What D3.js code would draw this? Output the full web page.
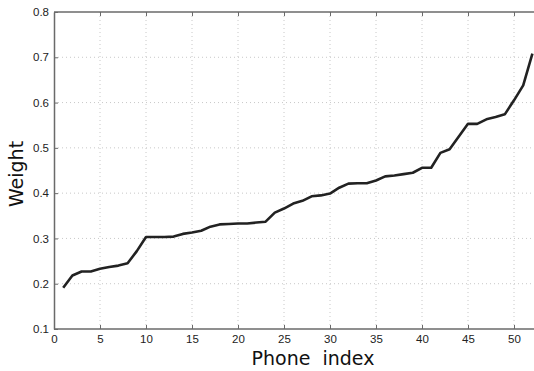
<!DOCTYPE html>
<html>
<head>
<meta charset="utf-8">
<script src="https://cdn.jsdelivr.net/npm/d3@7"></script>
<style>
  body { margin: 0; background: #fff; }
  svg { display: block; }
</style>
</head>
<body>
<div id="chart"></div>
<script>
// phone index and weight
const phoneIndex = d3.range(1, 53);
const weights = [
  0.191, 0.218, 0.227, 0.227, 0.233, 0.237, 0.240, 0.245, 0.272, 0.303,
  0.303, 0.303, 0.304, 0.310, 0.313, 0.317, 0.326, 0.331, 0.332, 0.333,
  0.333, 0.335, 0.337, 0.357, 0.366, 0.377, 0.383, 0.393, 0.395, 0.399,
  0.412, 0.421, 0.422, 0.422, 0.428, 0.437, 0.439, 0.442, 0.445, 0.456,
  0.456, 0.489, 0.497, 0.525, 0.553, 0.553, 0.563, 0.568, 0.574, 0.605,
  0.638, 0.708
];
const xTicks = [0, 5, 10, 15, 20, 25, 30, 35, 40, 45, 50];
const yTicks = [0.1, 0.2, 0.3, 0.4, 0.5, 0.6, 0.7, 0.8];

const W = 534, H = 371;
const plotLeft = 54, plotTop = 12, plotRight = 532.4, plotBottom = 329;

const x = d3.scaleLinear().domain([0, 52]).range([plotLeft, plotRight]);
const y = d3.scaleLinear().domain([0.1, 0.8]).range([plotBottom, plotTop]);

const svg = d3.select("#chart").append("svg")
    .attr("width", W)
    .attr("height", H);

// dotted grid
svg.append("g")
    .selectAll("line")
    .data(xTicks.filter(d => d > 0))
    .join("line")
    .attr("x1", d => x(d)).attr("x2", d => x(d))
    .attr("y1", plotTop).attr("y2", plotBottom)
    .attr("stroke", "#c8c8c8")
    .attr("stroke-width", 1)
    .attr("stroke-dasharray", "1,3");

svg.append("g")
    .selectAll("line")
    .data(yTicks.filter(d => d > 0.1 && d < 0.8))
    .join("line")
    .attr("x1", plotLeft).attr("x2", W)
    .attr("y1", d => y(d)).attr("y2", d => y(d))
    .attr("stroke", "#c8c8c8")
    .attr("stroke-width", 1)
    .attr("stroke-dasharray", "1,3");

// axes, ticks pointing inwards (right edge is cut off in the reference)
const axisColor = "#6a6a6a";
const fmtY = d3.format(".1f");

const gx = svg.append("g")
    .attr("transform", "translate(0," + plotBottom + ")")
    .call(d3.axisBottom(x).tickValues(xTicks).tickSize(-4).tickPadding(6).tickSizeOuter(0));

const gxTop = svg.append("g")
    .attr("transform", "translate(0," + plotTop + ")")
    .call(d3.axisTop(x).tickValues(xTicks).tickSize(-4).tickFormat("").tickSizeOuter(0));

const gy = svg.append("g")
    .attr("transform", "translate(" + plotLeft + ",0)")
    .call(d3.axisLeft(y).tickValues(yTicks).tickFormat(fmtY).tickSize(-4).tickPadding(5).tickSizeOuter(0));

[gx, gxTop].forEach(g => {
  g.select(".domain").attr("d", "M" + plotLeft + ",0H" + W);
});

[gx, gxTop, gy].forEach(g => {
  g.select(".domain").attr("stroke", axisColor).attr("stroke-width", 1.5);
  g.selectAll(".tick line").attr("stroke", axisColor);
  g.selectAll("text")
      .attr("fill", "#222")
      .style("font-family", "'Liberation Sans', Arial, sans-serif")
      .style("font-size", "11.5px");
});

// the weight curve
const line = d3.line()
    .x((d, i) => x(phoneIndex[i]))
    .y(d => y(d));

svg.append("path")
    .datum(weights)
    .attr("d", line)
    .attr("fill", "none")
    .attr("stroke", "#222")
    .attr("stroke-width", 2.6)
    .attr("stroke-linejoin", "round");

// axis titles
svg.append("text")
    .attr("x", 313)
    .attr("y", 365)
    .attr("text-anchor", "middle")
    .style("font-family", "'DejaVu Sans', sans-serif")
    .style("font-size", "19px")
    .style("white-space", "pre")
    .attr("fill", "#111")
    .text("Phone  index");

svg.append("text")
    .attr("transform", "translate(23,174) rotate(-90)")
    .attr("text-anchor", "middle")
    .style("font-family", "'DejaVu Sans', sans-serif")
    .style("font-size", "19px")
    .attr("fill", "#111")
    .text("Weight");
</script>
</body>
</html>
